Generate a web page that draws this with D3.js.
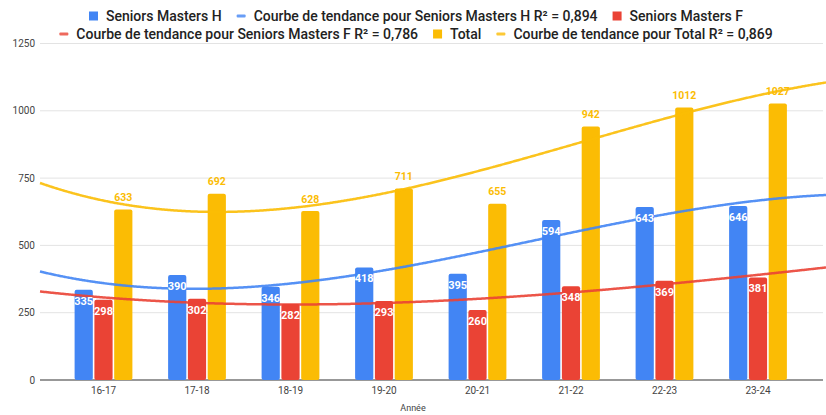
<!DOCTYPE html>
<html><head><meta charset="utf-8">
<script src="https://cdn.jsdelivr.net/npm/d3@7/dist/d3.min.js"></script>
<style>body{margin:0;background:#fff}svg{display:block}text{font-family:Roboto,"Liberation Sans",Arial,sans-serif}</style>
</head><body><svg id="c" width="826" height="415"></svg>
<script>
const categories = ["16-17","17-18","18-19","19-20","20-21","21-22","22-23","23-24"];
const seniorsH = [335,390,346,418,395,594,643,646];
const seniorsF = [298,302,282,293,260,348,369,381];
const total = [633,692,628,711,655,942,1012,1027];
const yTicks = [0,250,500,750,1000,1250];
const seriesNames = ["Seniors Masters H","Seniors Masters F","Total"];
const trendNames = ["Courbe de tendance pour Seniors Masters H R² = 0,894","Courbe de tendance pour Seniors Masters F R² = 0,786","Courbe de tendance pour Total R² = 0,869"];
const colors = ["#4285f4","#ea4335","#fbbc04"];
const xTitle = "Année";

const svg = d3.select("#c");
const mLeft = 40, mRight = 823, mTop = 43.5, mBottom = 380;
const y = d3.scaleLinear().domain([0,1250]).range([mBottom, mTop]);
const x0 = d3.scaleBand().domain(categories).range([56.75, 804.75]).paddingInner(0.382).paddingOuter(0.191);
const x1 = d3.scaleBand().domain([0,1,2]).range([0, x0.bandwidth()]).paddingInner(0.08);

// gridlines + y labels
const ya = svg.append("g");
yTicks.forEach(t => {
  ya.append("line").attr("x1", mLeft).attr("x2", mRight).attr("y1", y(t)).attr("y2", y(t))
    .attr("stroke", t === 0 ? "#333" : "#e3e3e3").attr("stroke-width", t===0?1.2:1);
  ya.append("text").attr("x", 35).attr("y", y(t)).attr("dy","0.35em").attr("text-anchor","end")
    .attr("font-size", 10).attr("fill","#444").text(t);
});

// x labels
const xa = d3.axisBottom(x0).tickSize(0).tickPadding(7);
const gx = svg.append("g").attr("transform", `translate(0,${mBottom})`).call(xa);
gx.select(".domain").remove();
gx.selectAll("text").attr("font-size", 10).attr("fill","#444").attr("font-family", "Roboto,Arial,sans-serif");
svg.append("text").attr("x", 413).attr("y", 410.5).attr("text-anchor","middle").attr("font-size", 9).attr("fill","#444").text(xTitle);

const series = [seniorsH, seniorsF, total];

// bars
series.forEach((vals, s) => {
  svg.append("g").selectAll("rect").data(vals).join("rect")
    .attr("x", (d,i) => x0(categories[i]) + x1(s))
    .attr("y", d => y(d))
    .attr("width", x1.bandwidth())
    .attr("height", d => y(0) - y(d))
    .attr("rx", 2)
    .attr("fill", colors[s]);
});

// trendlines (cubic least squares fit on category index)
function polyfit(vals, deg) {
  const n = deg + 1;
  const A = Array.from({length:n}, () => new Array(n+1).fill(0));
  vals.forEach((v, i) => {
    for (let r = 0; r < n; r++) {
      for (let c = 0; c < n; c++) A[r][c] += Math.pow(i, r + c);
      A[r][n] += v * Math.pow(i, r);
    }
  });
  for (let p = 0; p < n; p++) {
    let m = p; for (let r = p+1; r < n; r++) if (Math.abs(A[r][p]) > Math.abs(A[m][p])) m = r;
    [A[p], A[m]] = [A[m], A[p]];
    for (let r = 0; r < n; r++) if (r !== p) {
      const f = A[r][p] / A[p][p];
      for (let c = p; c <= n; c++) A[r][c] -= f * A[p][c];
    }
  }
  return A.map((row, r) => row[n] / row[r]);
}
const c0 = x0(categories[0]) + x0.bandwidth()/2;
const step = x0.step();
series.forEach((vals, s) => {
  const co = polyfit(vals, 3);
  const pts = d3.range(mLeft, 827, 2).map(px => {
    const t = (px - c0) / step;
    return [px, co.reduce((a, c, k) => a + c * Math.pow(t, k), 0)];
  });
  svg.append("path").datum(pts)
    .attr("d", d3.line().x(d => d[0]).y(d => y(d[1])).curve(d3.curveMonotoneX))
    .attr("fill","none").attr("stroke", colors[s]).attr("stroke-width", 2.5).attr("opacity", 0.9);
});

// labels
[0,1].forEach(s => {
  svg.append("g").selectAll("text").data(series[s]).join("text")
    .attr("x", (d,i) => x0(categories[i]) + x1(s) + x1.bandwidth()/2)
    .attr("y", d => y(d) + 11).attr("dy","0.35em")
    .attr("text-anchor","middle").attr("font-size", 11).attr("font-weight", 700)
    .attr("fill","#fff").text(d => d);
});
svg.append("g").selectAll("text").data(total).join("text")
  .attr("x", (d,i) => x0(categories[i]) + x1(2) + x1.bandwidth()/2)
  .attr("y", d => y(d) - 12).attr("dy","0.35em")
  .attr("text-anchor","middle").attr("font-size", 10.5).attr("font-weight", 700)
  .attr("fill", colors[2]).text(d => d);

// legend
const rows = [
  [{t:"box",c:0,label:seriesNames[0]},{t:"line",c:0,label:trendNames[0]},{t:"box",c:1,label:seriesNames[1]}],
  [{t:"line",c:1,label:trendNames[1]},{t:"box",c:2,label:seriesNames[2]},{t:"line",c:2,label:trendNames[2]}]
];
const rowY = [16, 34];
rows.forEach((items, r) => {
  const g = svg.append("g");
  let cx = 0;
  items.forEach(it => {
    if (it.t === "box") g.append("rect").attr("x", cx).attr("y", rowY[r]-4.5).attr("width", 9).attr("height", 9).attr("fill", colors[it.c]);
    else g.append("rect").attr("x", cx).attr("y", rowY[r]-1.5).attr("width", 9).attr("height", 3).attr("rx",1).attr("fill", colors[it.c]).attr("opacity",0.8);
    const tx = g.append("text").attr("x", cx + 17).attr("y", rowY[r]).attr("dy","0.35em")
      .attr("font-size", 14).attr("font-weight", 500).attr("fill","#222").text(it.label);
    cx += 17 + tx.node().getComputedTextLength() + 15;
  });
  const w = cx - 15;
  g.attr("transform", `translate(${416 - w/2},0)`);
});
</script></body></html>
